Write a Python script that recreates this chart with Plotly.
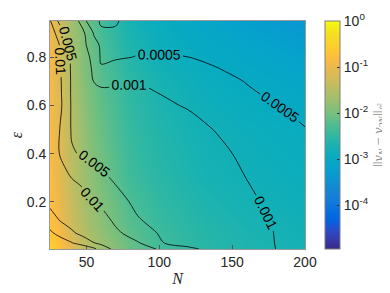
import numpy as np
import plotly.graph_objects as go

# ---------------- data ----------------
# grid used for the contour lines: log10 of ||v_N - v_2N||
N_nodes = [25, 30, 35, 40, 45, 50, 55, 60, 70, 85, 100, 120, 140, 160, 180, 200]
eps_nodes = [0.005, 0.03, 0.07, 0.12, 0.2, 0.3, 0.4, 0.5, 0.6, 0.65, 0.7, 0.75, 0.8, 0.85, 0.9, 0.95]
err_log10 = [
    [-0.50, -0.576, -0.652, -0.727, -0.803, -0.879, -0.955, -1.10, -1.441, -1.79, -2.053, -2.23, -2.463, -2.733, -3.003, -3.05],
    [-0.80, -0.863, -0.925, -0.988, -1.083, -1.186, -1.29, -1.403, -1.631, -1.973, -2.273, -2.47, -2.651, -2.833, -3.01, -3.06],
    [-0.95, -1.046, -1.145, -1.244, -1.35, -1.468, -1.586, -1.703, -1.939, -2.172, -2.317, -2.375, -2.598, -2.82, -3.02, -3.07],
    [-1.15, -1.261, -1.366, -1.468, -1.57, -1.672, -1.774, -1.876, -2.056, -2.271, -2.395, -2.436, -2.648, -2.86, -3.04, -3.09],
    [-1.40, -1.55, -1.68, -1.78, -1.86, -1.93, -1.996, -2.063, -2.198, -2.379, -2.487, -2.534, -2.73, -2.93, -3.10, -3.147],
    [-1.45, -1.75, -1.90, -2.01, -2.067, -2.124, -2.181, -2.238, -2.351, -2.504, -2.601, -2.657, -2.81, -3.007, -3.152, -3.197],
    [-1.48, -1.953, -2.15, -2.28, -2.308, -2.328, -2.375, -2.442, -2.519, -2.629, -2.716, -2.78, -2.927, -3.084, -3.202, -3.246],
    [-1.53, -1.935, -2.168, -2.327, -2.404, -2.481, -2.586, -2.642, -2.687, -2.754, -2.83, -2.90, -3.022, -3.16, -3.253, -3.295],
    [-1.58, -1.856, -2.12, -2.342, -2.49, -2.634, -2.797, -2.843, -2.855, -2.88, -2.945, -3.027, -3.131, -3.236, -3.296, -3.35],
    [-1.63, -1.88, -2.12, -2.35, -2.53, -2.71, -2.88, -2.935, -2.945, -2.955, -3.002, -3.096, -3.186, -3.274, -3.34, -3.39],
    [-1.68, -1.89, -2.12, -2.35, -2.57, -2.79, -3.01, -3.074, -3.043, -3.011, -3.092, -3.164, -3.24, -3.31, -3.37, -3.42],
    [-1.73, -1.91, -2.12, -2.36, -2.61, -2.86, -3.08, -3.28, -3.20, -3.14, -3.18, -3.23, -3.295, -3.35, -3.41, -3.45],
    [-1.78, -1.933, -2.128, -2.366, -2.64, -2.91, -3.15, -3.33, -3.335, -3.29, -3.275, -3.30, -3.34, -3.38, -3.43, -3.48],
    [-1.83, -1.953, -2.14, -2.39, -2.70, -3.01, -3.23, -3.33, -3.37, -3.375, -3.38, -3.40, -3.42, -3.44, -3.47, -3.50],
    [-1.90, -2.05, -2.32, -2.57, -2.82, -3.08, -3.32, -3.33, -3.33, -3.41, -3.42, -3.43, -3.45, -3.47, -3.49, -3.52],
    [-1.98, -2.29, -2.54, -2.78, -3.03, -3.31, -3.37, -3.28, -3.28, -3.44, -3.45, -3.46, -3.48, -3.50, -3.52, -3.55],
]
contour_levels = [0.0005, 0.001, 0.005, 0.01, 0.05, 0.1]
labelled_levels = [0.0005, 0.001, 0.005, 0.01]

# background shading (log10 units)
shade_N = [25, 32, 40, 50, 60, 80, 100, 130, 160, 200]
shade_eps = [0.005, 0.1, 0.3, 0.5, 0.7, 0.85, 0.95]
shade_log10 = [
    [-0.45, -0.75, -1.10, -1.45, -1.70, -2.10, -2.35, -2.55, -2.65, -2.75],
    [-0.70, -0.95, -1.30, -1.60, -1.85, -2.20, -2.42, -2.60, -2.70, -2.80],
    [-0.80, -1.10, -1.45, -1.75, -2.00, -2.38, -2.55, -2.72, -2.80, -2.88],
    [-0.84, -1.14, -1.50, -1.85, -2.10, -2.45, -2.62, -2.78, -2.86, -2.94],
    [-0.88, -1.20, -1.60, -1.95, -2.20, -2.52, -2.72, -2.88, -2.98, -3.10],
    [-0.90, -1.25, -1.65, -2.00, -2.30, -2.65, -2.85, -3.00, -3.12, -3.25],
    [-0.92, -1.30, -1.70, -2.05, -2.35, -2.75, -2.92, -3.10, -3.25, -3.40],
]
cbar_ticks = [0, -1, -2, -3, -4]
cbar_ticktext = ["10<sup>0</sup>", "10<sup>-1</sup>", "10<sup>-2</sup>", "10<sup>-3</sup>", "10<sup>-4</sup>"]
cbar_range = [-4.95, 0.0]
x_ticks = [50, 100, 150, 200]
y_ticks = [0.2, 0.4, 0.6, 0.8]

# ---------------- style ----------------
parula = [[0.2081, 0.1663, 0.5292], [0.2116, 0.1898, 0.5777], [0.2123, 0.2138, 0.6270], [0.2081, 0.2386, 0.6771],
          [0.1959, 0.2645, 0.7279], [0.1707, 0.2919, 0.7792], [0.1253, 0.3242, 0.8303], [0.0591, 0.3598, 0.8683],
          [0.0117, 0.3875, 0.8820], [0.0060, 0.4086, 0.8828], [0.0165, 0.4266, 0.8786], [0.0329, 0.4430, 0.8720],
          [0.0498, 0.4586, 0.8641], [0.0629, 0.4737, 0.8554], [0.0723, 0.4887, 0.8467], [0.0779, 0.5040, 0.8384],
          [0.0793, 0.5200, 0.8312], [0.0749, 0.5375, 0.8263], [0.0641, 0.5570, 0.8240], [0.0488, 0.5772, 0.8228],
          [0.0343, 0.5966, 0.8199], [0.0265, 0.6137, 0.8135], [0.0239, 0.6287, 0.8038], [0.0231, 0.6418, 0.7913],
          [0.0228, 0.6535, 0.7768], [0.0267, 0.6642, 0.7607], [0.0384, 0.6743, 0.7436], [0.0590, 0.6838, 0.7254],
          [0.0843, 0.6928, 0.7062], [0.1133, 0.7015, 0.6859], [0.1453, 0.7098, 0.6646], [0.1801, 0.7177, 0.6424],
          [0.2178, 0.7250, 0.6193], [0.2586, 0.7317, 0.5954], [0.3022, 0.7376, 0.5712], [0.3482, 0.7424, 0.5473],
          [0.3953, 0.7459, 0.5244], [0.4420, 0.7481, 0.5033], [0.4871, 0.7491, 0.4840], [0.5300, 0.7491, 0.4661],
          [0.5709, 0.7485, 0.4494], [0.6099, 0.7473, 0.4337], [0.6473, 0.7456, 0.4188], [0.6834, 0.7435, 0.4044],
          [0.7184, 0.7411, 0.3905], [0.7525, 0.7384, 0.3768], [0.7858, 0.7356, 0.3633], [0.8185, 0.7327, 0.3498],
          [0.8507, 0.7299, 0.3360], [0.8824, 0.7274, 0.3217], [0.9139, 0.7258, 0.3063], [0.9450, 0.7261, 0.2886],
          [0.9739, 0.7314, 0.2666], [0.9938, 0.7455, 0.2403], [0.9990, 0.7653, 0.2164], [0.9955, 0.7861, 0.1967],
          [0.9880, 0.8066, 0.1794], [0.9789, 0.8271, 0.1633], [0.9697, 0.8481, 0.1475], [0.9626, 0.8705, 0.1309],
          [0.9589, 0.8949, 0.1132], [0.9598, 0.9218, 0.0948], [0.9661, 0.9514, 0.0755], [0.9763, 0.9831, 0.0538]]
colorscale = [[i / (len(parula) - 1), "rgb(%d,%d,%d)" % tuple(int(round(c * 255)) for c in rgb)]
              for i, rgb in enumerate(parula)]

SANS = "Liberation Sans, Arial, Helvetica, sans-serif"
SERIF = "Liberation Serif, DejaVu Serif, serif"
AXC = "#262626"

fig = go.Figure()
fig.add_trace(go.Heatmap(
    x=shade_N, y=shade_eps, z=shade_log10, zsmooth="best",
    colorscale=colorscale, zmin=cbar_range[0], zmax=cbar_range[1],
    hoverinfo="skip",
    colorbar=dict(
        x=1.078, xanchor="left", xpad=0, y=0.5, yanchor="middle", ypad=0,
        len=1.0, lenmode="fraction",
        thickness=15, outlinecolor="#7f7f7f", outlinewidth=1,
        tickvals=cbar_ticks, ticktext=cbar_ticktext, ticks="inside", ticklen=3,
        tickcolor="#333", tickfont=dict(family=SANS, size=14, color=AXC),
        title=dict(text="||<i>v<sub>N</sub></i> \u2212 <i>v<sub>2N</sub></i>||<sub><i>\u2113</i><sup>2</sup></sub>",
                   side="right", font=dict(family=SERIF, size=14, color="#8a8a8a")),
    ),
))

z_lin = (10.0 ** np.array(err_log10)).tolist()
for lvl in contour_levels:
    labelled = lvl in labelled_levels
    # extra (empty) levels far above the data only change plotly's label spacing
    fig.add_trace(go.Contour(
        x=N_nodes, y=eps_nodes, z=z_lin,
        autocontour=False,
        contours=dict(start=lvl, end=lvl + 29.0, size=1.0, coloring="none",
                      showlabels=labelled, labelformat=".4~f",
                      labelfont=dict(family=SANS, size=14, color="black")),
        line=dict(color="black", width=0.8, smoothing=1.0),
        showscale=False, hoverinfo="skip",
    ))

fig.update_layout(
    width=382, height=285,
    margin=dict(l=42, r=85, t=13, b=44, autoexpand=False),
    paper_bgcolor="white", plot_bgcolor="white",
    showlegend=False,
    xaxis=dict(range=[25, 200], tickvals=x_ticks, ticks="inside", ticklen=4, tickcolor="#555",
               showline=True, linecolor="#999", linewidth=1, mirror=True, showgrid=False, zeroline=False,
               tickfont=dict(family=SANS, size=14, color=AXC),
               title=dict(text="<i>N</i>", font=dict(family=SERIF, size=16, color=AXC), standoff=4)),
    yaxis=dict(range=[0.005, 0.95], tickvals=y_ticks, ticks="inside", ticklen=4, tickcolor="#555",
               showline=True, linecolor="#999", linewidth=1, mirror=True, showgrid=False, zeroline=False,
               tickfont=dict(family=SANS, size=14, color=AXC),
               title=dict(text="<i>\u03b5</i>", font=dict(family=SERIF, size=16, color=AXC), standoff=10)),
)

fig.write_html("out.html")
